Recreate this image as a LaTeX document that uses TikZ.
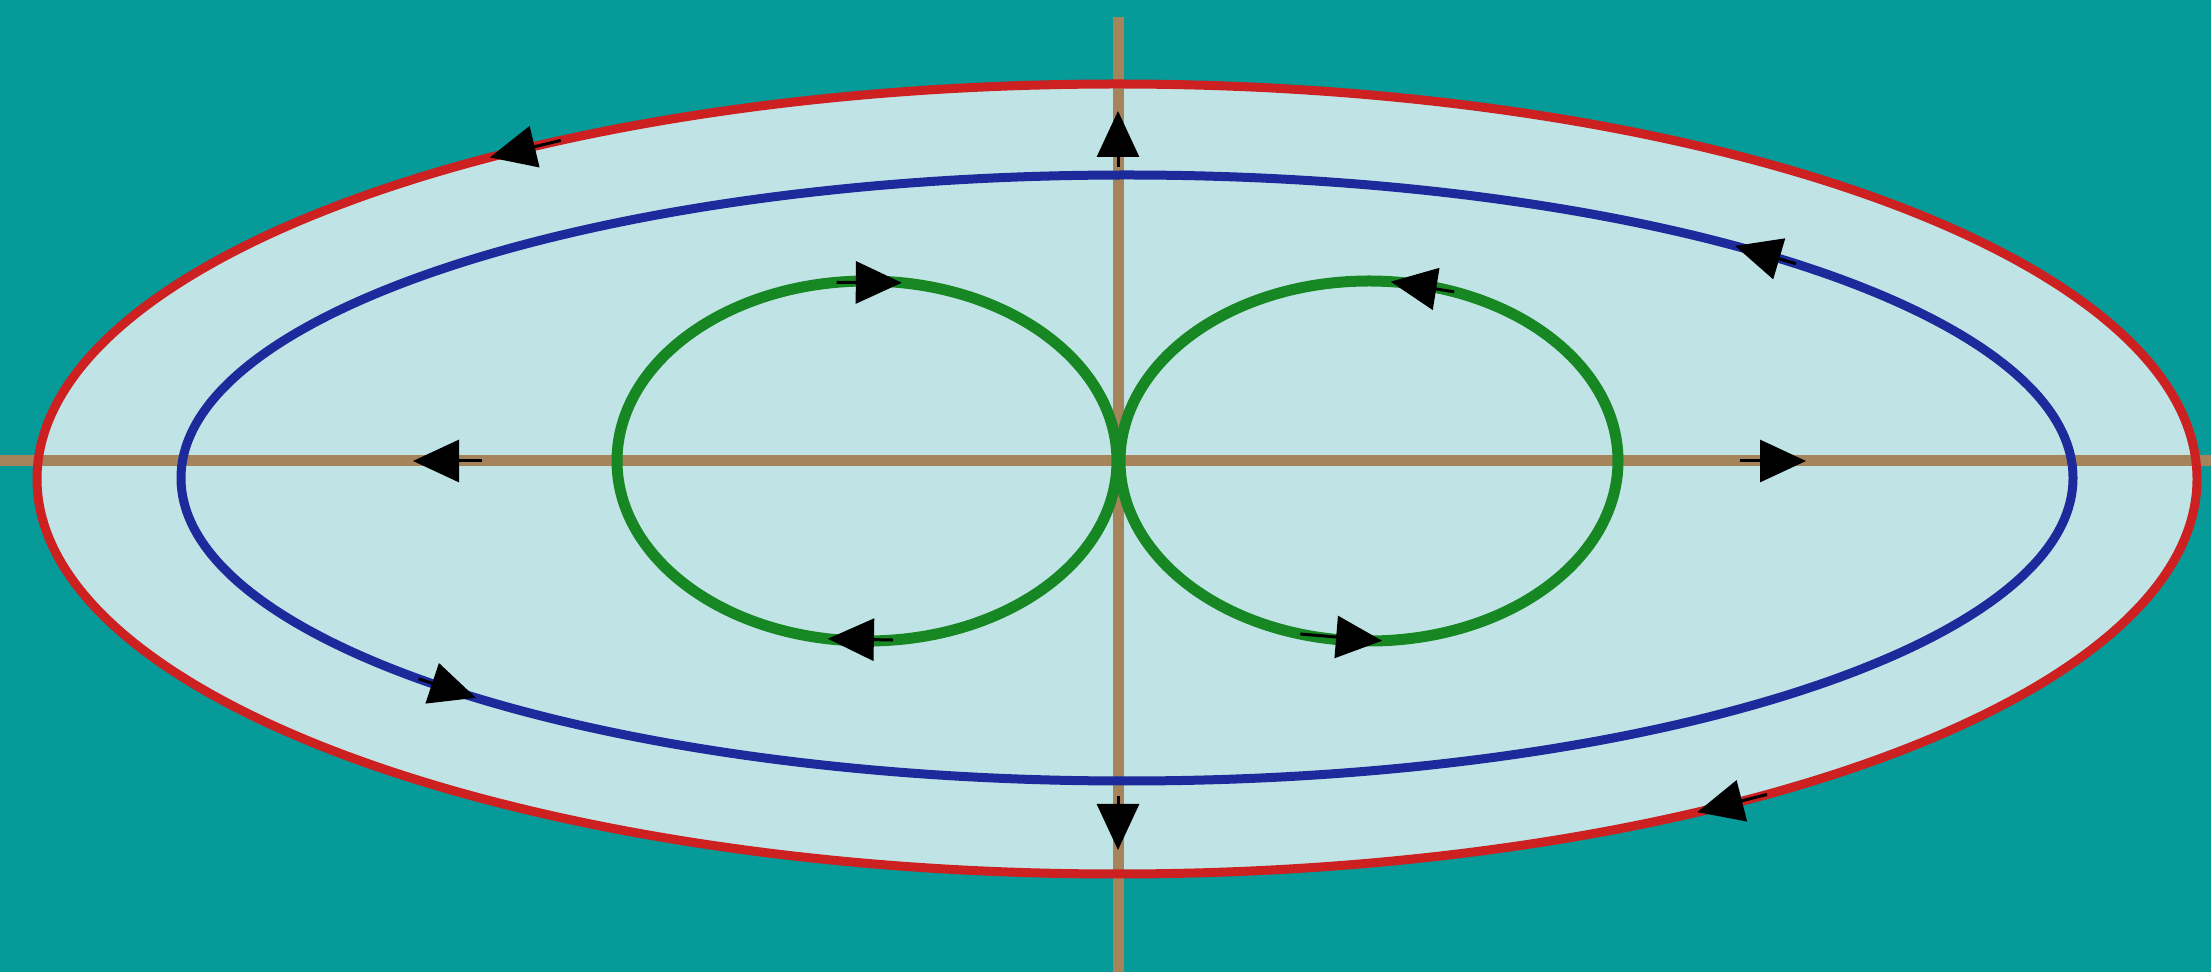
\documentclass[tikz,border=0pt]{standalone}
\usetikzlibrary{arrows.meta,calc}
\definecolor{bgteal}{RGB}{6,154,153}
\definecolor{inner}{RGB}{192,228,230}
\definecolor{redc}{RGB}{205,32,32}
\definecolor{bluec}{RGB}{28,42,155}
\definecolor{greenc}{RGB}{22,135,34}
\definecolor{axisc}{RGB}{165,132,92}
\tikzset{
  redcurve/.style={draw=redc,line width=9pt},
  bluecurve/.style={draw=bluec,line width=9pt},
  greencurve/.style={draw=greenc,line width=11pt},
  axisline/.style={draw=axisc,line width=11pt},
  flow/.style={draw=black,line width=3pt,-{Triangle[length=46pt,width=42pt]}},
}
\begin{document}
\begin{tikzpicture}[x=1pt,y=1pt]
\useasboundingbox (0,0) rectangle (2211,972);
\fill[bgteal] (0,0) rectangle (2211,972);
% centres
\coordinate (R) at (1117,493);
\coordinate (B) at (1127,494);
\coordinate (GL) at (867,511);
\coordinate (GR) at (1369,511);
% inner fill
\fill[inner] (R) ellipse [x radius=1080, y radius=395];
% axes
\coordinate (xl) at (0,511);
\coordinate (xr) at (2211,511);
\coordinate (yt) at (1118,955);
\coordinate (yb) at (1118,0);
\draw[axisline] (xl) -- (xr);
\draw[axisline] (yb) -- (yt);
% curves
\draw[redcurve] (R) ellipse [x radius=1080, y radius=395];
\draw[bluecurve] (B) ellipse [x radius=946, y radius=303];
\draw[greencurve] (GL) ellipse [x radius=250, y radius=180];
\draw[greencurve] (GR) ellipse [x radius=249, y radius=180];
% arrows on red
\draw[flow] ($(R)+(121:1080 and 395)$) -- ($(R)+(125.5:1080 and 395)$);
\draw[flow] ($(R)+(-53:1080 and 395)$) -- ($(R)+(-57.5:1080 and 395)$);
% arrows on blue
\draw[flow] ($(B)+(45:946 and 303)$) -- ($(B)+(50:946 and 303)$);
\draw[flow] ($(B)+(221.5:946 and 303)$) -- ($(B)+(226.5:946 and 303)$);
% arrows on green
\draw[flow] ($(GL)+(97:250 and 180)$) -- ($(GL)+(82:250 and 180)$);
\draw[flow] ($(GL)+(276:250 and 180)$) -- ($(GL)+(261:250 and 180)$);
\draw[flow] ($(GR)+(70:249 and 180)$) -- ($(GR)+(85:249 and 180)$);
\draw[flow] ($(GR)+(254:249 and 180)$) -- ($(GR)+(273:249 and 180)$);
% arrows on axes
\coordinate (al1) at (482,511); \coordinate (al2) at (413,511);
\coordinate (ar1) at (1740,511); \coordinate (ar2) at (1806,511);
\coordinate (at1) at (1118,805); \coordinate (at2) at (1118,861);
\coordinate (ab1) at (1118,176); \coordinate (ab2) at (1118,122);
\draw[flow] (al1) -- (al2);
\draw[flow] (ar1) -- (ar2);
\draw[flow] (at1) -- (at2);
\draw[flow] (ab1) -- (ab2);
\end{tikzpicture}
\end{document}
